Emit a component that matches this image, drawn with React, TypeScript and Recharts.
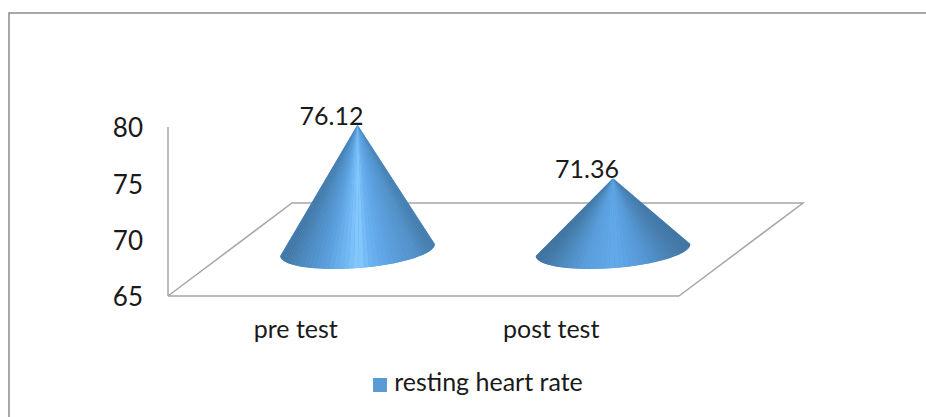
import React from 'react';
import { BarChart, Bar, XAxis, YAxis, Legend, LabelList } from 'recharts';

const categories = ['pre test', 'post test'];
const restingHeartRate = [76.12, 71.36];
const yTicks = [65, 70, 75, 80];
const seriesName = 'resting heart rate';

const chartData = categories.map((name, i) => ({ name, value: restingHeartRate[i] }));

const FONT = 'Lato, "Open Sans", sans-serif';
const AXIS = '#a6a6a6';
const DEPTH_X = 62;
const DEPTH_Y = 46;

// shading across the cone, left to right: [position, r, g, b]
const SHADES: number[][][] = [
  [[0, 66, 120, 165], [0.12, 82, 144, 198], [0.3, 94, 162, 226], [0.42, 106, 178, 240], [0.5, 134, 204, 255], [0.58, 114, 186, 246], [0.72, 90, 158, 220], [0.88, 76, 136, 188], [1, 62, 114, 158]],
  [[0, 62, 114, 158], [0.14, 74, 130, 180], [0.3, 86, 152, 212], [0.5, 98, 170, 234], [0.7, 90, 158, 220], [0.88, 74, 132, 182], [1, 62, 110, 152]],
];

const shadeAt = (stops: number[][], t: number) => {
  let i = 0;
  while (i < stops.length - 2 && t > stops[i + 1][0]) i++;
  const a = stops[i];
  const b = stops[i + 1];
  const k = (t - a[0]) / (b[0] - a[0]);
  const c = [1, 2, 3].map(j => Math.round(a[j] + (b[j] - a[j]) * k));
  return `rgb(${c[0]},${c[1]},${c[2]})`;
};

/** Cone standing on the middle of the floor, built from the bar's own geometry */
const Cone = (props: any) => {
  const { x, y, width, height, index } = props;
  const cx = x + width / 2 + DEPTH_X;
  const top = y - DEPTH_Y;
  const base = y + height - DEPTH_Y;
  const rx = width / 2;
  const ry = 18;
  const rot = (-4.5 * Math.PI) / 180;
  const pt = (a: number) => {
    const px = rx * Math.cos(a);
    const py = ry * Math.sin(a);
    return [cx + px * Math.cos(rot) - py * Math.sin(rot), base + px * Math.sin(rot) + py * Math.cos(rot)];
  };
  const steps = 48;
  const slices = [];
  let outline = `M${cx},${top}`;
  for (let s = 0; s < steps; s++) {
    const a0 = Math.PI - (Math.PI * s) / steps;
    const a1 = Math.PI - (Math.PI * (s + 1)) / steps;
    const p0 = pt(a0);
    const p1 = pt(a1);
    outline += `L${p0[0]},${p0[1]}`;
    const t = (1 - Math.cos((a0 + a1) / 2)) / 2;
    const color = shadeAt(SHADES[index], t);
    slices.push({
      order: Math.abs(t - 0.5),
      el: <path key={s} d={`M${cx},${top}L${p0[0]},${p0[1]}L${p1[0]},${p1[1]}Z`} fill={color} />,
    });
  }
  const end = pt(0);
  outline += `L${end[0]},${end[1]}Z`;
  // edges first, so the highlight stays on top at the tip
  slices.sort((p, q) => q.order - p.order);
  return (
    <g>
      {/* solid cone underneath hides the seams between slices */}
      <path d={outline} fill={shadeAt(SHADES[index], 0.3)} />
      {slices.map(s => s.el)}
    </g>
  );
};

const ValueLabel = (props: any) => {
  const { x, y, width, value } = props;
  return (
    <text x={x + width / 2 + 36} y={y - DEPTH_Y} textAnchor="middle" fontFamily={FONT} fontSize={25} fill="#1a1a1a">
      {value}
    </text>
  );
};

export default function App() {
  return (
    <div style={{ position: 'absolute', left: 0, top: 0, width: 926, height: 417, background: '#fff', overflow: 'hidden' }}>
      <BarChart
        width={926}
        height={417}
        data={chartData}
        margin={{ top: 127, right: 247, bottom: 91, left: 118 }}
      >
        {/* picture frame and chart floor */}
        <path d="M9,417V13H926" fill="none" stroke="#8c8c8c" strokeWidth={1.5} />
        <path d="M168,296L292,203H803L679,296" fill="none" stroke={AXIS} strokeWidth={1.5} />
        <XAxis
          dataKey="name"
          height={30}
          tickLine={false}
          tickSize={0}
          tickMargin={24}
          axisLine={{ stroke: AXIS, strokeWidth: 1.5 }}
          tick={{ fontFamily: FONT, fontSize: 25, fill: '#1a1a1a' }}
        />
        <YAxis
          width={50}
          domain={[65, 80]}
          ticks={yTicks}
          tickLine={false}
          tickSize={0}
          tickMargin={25}
          axisLine={{ stroke: AXIS, strokeWidth: 1.5 }}
          tick={{ fontFamily: FONT, fontSize: 26, fill: '#1a1a1a', dy: 1 }}
        />
        <Legend
          layout="horizontal"
          align="center"
          verticalAlign="middle"
          iconType="square"
          iconSize={14}
          wrapperStyle={{ top: 366, left: 343, width: 280, fontFamily: FONT, fontSize: 25 }}
          formatter={(v: string) => <span style={{ color: '#1a1a1a', marginLeft: 3 }}>{v}</span>}
        />
        <Bar dataKey="value" name={seriesName} fill="#5b9bd5" barSize={155} shape={<Cone />} isAnimationActive={false}>
          <LabelList dataKey="value" content={<ValueLabel />} />
        </Bar>
      </BarChart>
    </div>
  );
}
